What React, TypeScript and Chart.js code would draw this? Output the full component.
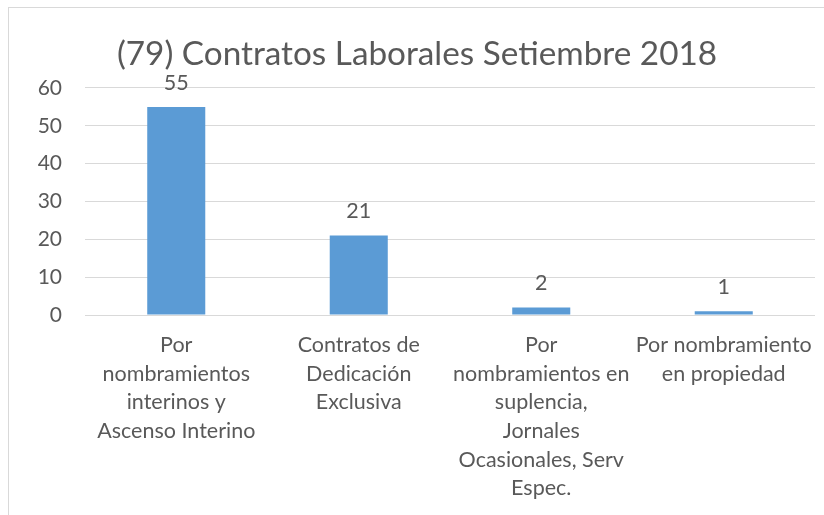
import React, { useEffect, useRef } from "react";
import { Chart, registerables } from "chart.js";

Chart.register(...registerables);

const TITLE = "(79) Contratos Laborales Setiembre 2018";
const categories: string[][] = [
  ["Por", "nombramientos", "interinos y", "Ascenso Interino"],
  ["Contratos de", "Dedicación", "Exclusiva"],
  ["Por", "nombramientos en", "suplencia,", "Jornales", "Ocasionales, Serv", "Espec."],
  ["Por nombramiento", "en propiedad"],
];
const values: number[] = [55, 21, 2, 1];
const yTicks: number[] = [0, 10, 20, 30, 40, 50, 60];

const TEXT = "#595959";
const GRID = "#D9D9D9";
const BAR = "#5B9BD5";
const FONT = "Lato, 'Noto Sans', sans-serif";

const dataLabels = {
  id: "dataLabels",
  afterDatasetsDraw(chart: any) {
    const ctx = chart.ctx;
    const meta = chart.getDatasetMeta(0);
    ctx.save();
    ctx.fillStyle = TEXT;
    ctx.font = `21.5px ${FONT}`;
    ctx.textAlign = "center";
    ctx.textBaseline = "middle";
    meta.data.forEach((el: any, i: number) => {
      ctx.fillText(String(chart.data.datasets[0].data[i]), el.x, el.y - 24);
    });
    ctx.restore();
  },
};

export default function App() {
  const ref = useRef<HTMLCanvasElement>(null);
  useEffect(() => {
    if (!ref.current) return;
    const chart = new Chart(ref.current, {
      type: "bar",
      data: {
        labels: categories,
        datasets: [
          {
            data: values,
            backgroundColor: BAR,
            borderWidth: 0,
            categoryPercentage: 1,
            barPercentage: 0.318,
          },
        ],
      },
      options: {
        responsive: false,
        animation: false,
        devicePixelRatio: 1,
        layout: { padding: { left: 19, right: 9, top: 0, bottom: 0 } },
        plugins: {
          legend: { display: false },
          tooltip: { enabled: false },
          title: {
            display: true,
            text: TITLE,
            color: TEXT,
            font: { family: FONT, size: 33.3, weight: "normal", lineHeight: 1.2 },
            padding: { top: 34, bottom: 14 },
          },
        },
        scales: {
          y: {
            min: 0,
            max: 60,
            afterBuildTicks: (s: any) => {
              s.ticks = yTicks.map((v) => ({ value: v }));
            },
            afterFit: (s: any) => {
              s.width = 66;
            },
            grid: { color: GRID, lineWidth: 1, drawTicks: false },
            border: { display: false },
            ticks: {
              color: TEXT,
              padding: 23,
              font: { family: FONT, size: 21 },
            },
          },
          x: {
            afterFit: (s: any) => {
              s.height = 200;
              s.paddingLeft = 0;
              s.paddingRight = 0;
            },
            grid: { display: false, drawTicks: false },
            border: { display: false },
            ticks: {
              color: TEXT,
              padding: 16,
              maxRotation: 0,
              autoSkip: false,
              font: { family: FONT, size: 21.5, lineHeight: 1.33 },
            },
          },
        },
      },
      plugins: [dataLabels],
    });
    return () => chart.destroy();
  }, []);

  return (
    <div style={{ position: "fixed", left: 0, top: 0, width: 824, height: 515, background: "#fff", overflow: "hidden" }}>
      <div
        style={{
          position: "absolute",
          left: 8,
          top: 7,
          width: 900,
          height: 600,
          borderLeft: `1px solid ${GRID}`,
          borderTop: `1px solid ${GRID}`,
        }}
      />
      <canvas ref={ref} width={824} height={515} style={{ position: "absolute", left: 0, top: 0 }} />
    </div>
  );
}
